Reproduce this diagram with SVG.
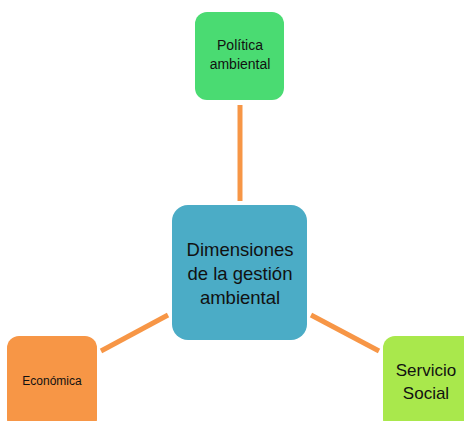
<svg xmlns="http://www.w3.org/2000/svg" width="464" height="421" viewBox="0 0 464 421">
<style>
text{font-family:"Liberation Sans",Arial,sans-serif;fill:#111;text-anchor:middle}
.c{stroke:#F79646;stroke-width:5;fill:none}
</style>
<rect width="464" height="421" fill="#fff"/>
<g id="connectors">
<line class="c" x1="240" y1="105" x2="240" y2="201"/>
<line class="c" x1="168" y1="315" x2="101" y2="351"/>
<line class="c" x1="311" y1="315" x2="379" y2="351"/>
</g>
<g id="politica">
<rect x="195" y="12" width="89" height="88" rx="12" fill="#4ADB72"/>
<text x="240" y="50" font-size="14">Política</text>
<text x="240" y="69" font-size="14">ambiental</text>
</g>
<g id="dimensiones">
<rect x="172" y="205" width="135" height="135" rx="16" fill="#4BACC6"/>
<text x="240" y="256" font-size="18.5">Dimensiones</text>
<text x="240" y="280" font-size="18.5">de la gestión</text>
<text x="240" y="304" font-size="18.5">ambiental</text>
</g>
<g id="economica">
<rect x="7" y="336" width="90" height="95" rx="12" fill="#F79646"/>
<text x="52" y="385" font-size="12">Económica</text>
</g>
<g id="servicio">
<rect x="383" y="336" width="95" height="95" rx="12" fill="#A9E84C"/>
<text x="426" y="376" font-size="17">Servicio</text>
<text x="426" y="399" font-size="17">Social</text>
</g>
</svg>
